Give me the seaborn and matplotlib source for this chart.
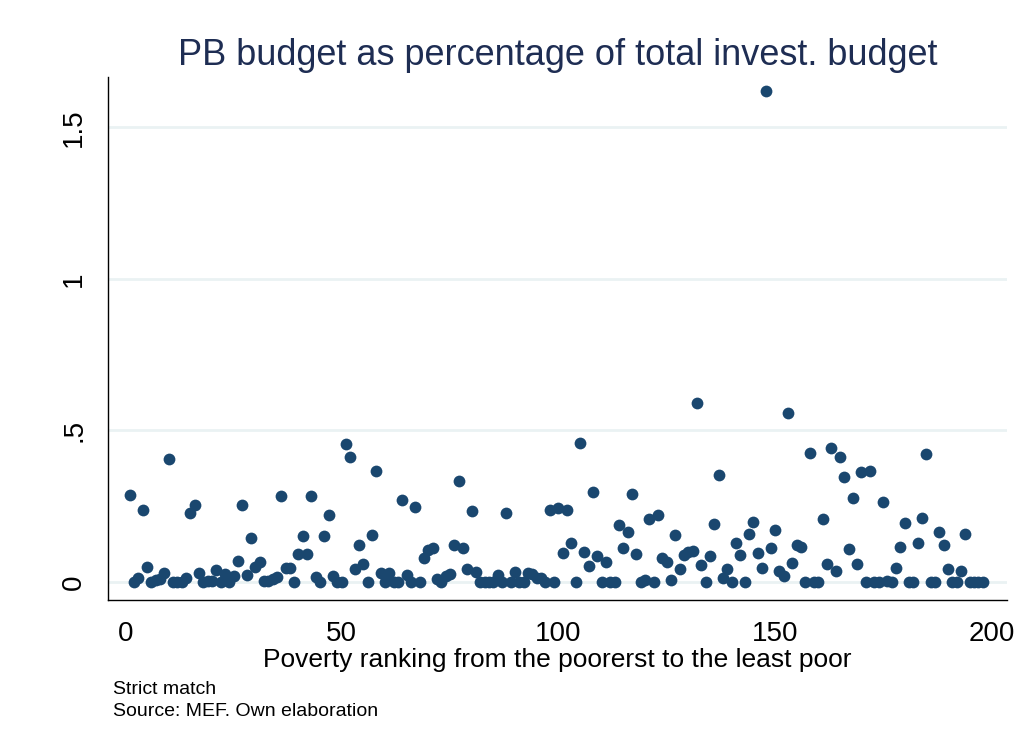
import matplotlib
matplotlib.use("Agg")
import matplotlib.pyplot as plt
import seaborn as sns
import pandas as pd

# Poverty rank (1 = poorest) and PB budget share of total investment budget
rank = list(range(1, 199))
pb_share = [
    0.285, 0.0, 0.012, 0.236, 0.05, 0.0, 0.005, 0.008, 0.029, 0.405,
    0.0, 0.0, 0.0, 0.012, 0.228, 0.254, 0.029, 0.0, 0.003, 0.003,
    0.04, 0.0, 0.025, 0.0, 0.018, 0.069, 0.252, 0.021, 0.146, 0.05,
    0.067, 0.004, 0.003, 0.008, 0.015, 0.284, 0.047, 0.047, 0.0, 0.091,
    0.152, 0.091, 0.284, 0.016, 0.0, 0.152, 0.221, 0.018, 0.0, 0.0,
    0.454, 0.413, 0.042, 0.122, 0.058, 0.0, 0.153, 0.366, 0.029, 0.0,
    0.029, 0.0, 0.0, 0.27, 0.024, 0.0, 0.248, 0.0, 0.078, 0.105,
    0.113, 0.01, 0.0, 0.02, 0.026, 0.122, 0.334, 0.111, 0.042, 0.234,
    0.034, 0.0, 0.0, 0.0, 0.0, 0.024, 0.0, 0.228, 0.0, 0.034,
    0.0, 0.0, 0.029, 0.025, 0.012, 0.012, 0.0, 0.237, 0.0, 0.243,
    0.095, 0.237, 0.128, 0.0, 0.459, 0.097, 0.053, 0.295, 0.084, 0.0,
    0.067, 0.0, 0.0, 0.188, 0.111, 0.164, 0.289, 0.092, 0.0, 0.007,
    0.208, 0.0, 0.221, 0.078, 0.064, 0.007, 0.155, 0.042, 0.089, 0.1,
    0.103, 0.589, 0.056, 0.0, 0.084, 0.191, 0.351, 0.012, 0.042, 0.0,
    0.128, 0.087, 0.0, 0.157, 0.199, 0.095, 0.045, 1.619, 0.111, 0.171,
    0.037, 0.02, 0.558, 0.062, 0.12, 0.114, 0.0, 0.424, 0.0, 0.0,
    0.208, 0.058, 0.441, 0.037, 0.411, 0.347, 0.108, 0.275, 0.059, 0.364,
    0.0, 0.367, 0.0, 0.0, 0.262, 0.003, 0.0, 0.045, 0.114, 0.193,
    0.0, 0.0, 0.128, 0.212, 0.422, 0.0, 0.0, 0.163, 0.121, 0.043,
    0.0, 0.0, 0.037, 0.157, 0.0, 0.0, 0.0, 0.0,
]
x_ticks = [0, 50, 100, 150, 200]
y_ticks = [0, 0.5, 1, 1.5]
y_tick_labels = ["0", ".5", "1", "1.5"]

df = pd.DataFrame({"rank": rank, "share": pb_share})

sns.set_style("white")
plt.rcParams['font.family'] = ['Liberation Sans', 'DejaVu Sans']
plt.rcParams['text.color'] = 'black'
plt.rcParams['xtick.color'] = 'black'
plt.rcParams['ytick.color'] = 'black'
plt.rcParams['axes.labelcolor'] = 'black'

fig = plt.figure(figsize=(10.28, 7.5), dpi=100)
ax = fig.add_axes([0.105, 0.2, 0.875, 0.697])

for yv in y_ticks:
    ax.axhline(yv, color="#eaf2f3", linewidth=2, zorder=0)

sns.scatterplot(data=df, x="rank", y="share", color="#1a476f", s=72,
                linewidth=0, ax=ax, zorder=3)

ax.set_xlim(-4, 203.7)
ax.set_ylim(-0.06, 1.665)
ax.set_xticks(x_ticks)
ax.set_xticklabels([str(v) for v in x_ticks])
ax.set_yticks(y_ticks)
ax.set_yticklabels(y_tick_labels, rotation=90, va="center")
ax.tick_params(axis="both", direction="out", length=7, width=1, color="black",
               labelsize=20, pad=8)

sns.despine(ax=ax)
for side in ["left", "bottom"]:
    ax.spines[side].set_color("black")
    ax.spines[side].set_linewidth(1)

ax.set_xlabel("Poverty ranking from the poorerst to the least poor", fontsize=19, labelpad=1)
ax.set_ylabel("")
ax.set_title("PB budget as percentage of total invest. budget", fontsize=26,
             color="#1e2d53", pad=9)

fig.text(0.11, 0.074, "Strict match", fontsize=14)
fig.text(0.11, 0.046, "Source: MEF. Own elaboration", fontsize=14)

fig.savefig("out.png", dpi=100, facecolor="white")
